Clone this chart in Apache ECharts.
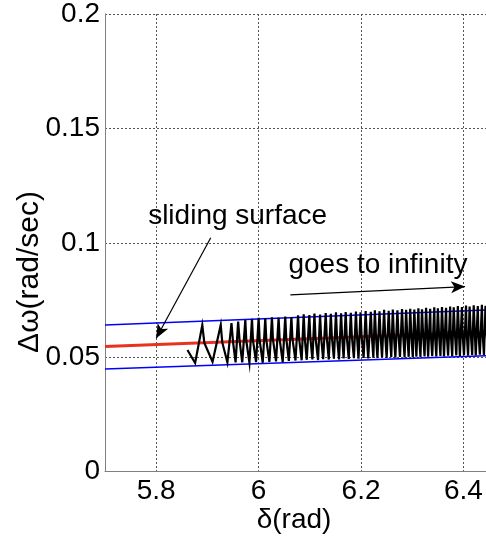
<!DOCTYPE html>
<html>
<head>
<meta charset="utf-8">
<script src="https://cdn.jsdelivr.net/npm/echarts@6/dist/echarts.min.js"></script>
<style>
  html, body { margin: 0; padding: 0; background: #fff; }
  #chart { width: 486px; height: 544px; }
</style>
</head>
<body>
<div id="chart"></div>
<script>
// Axis ticks
var xTicks = [5.8, 6, 6.2, 6.4];
var yTicks = [0, 0.05, 0.1, 0.15, 0.2];
var xRange = [5.7, 6.444];

// Sliding surface s = 0 (red) and its boundary layer (blue)
var surfaceDelta = [5.7, 6.5];
var surfaceOmega = [0.0547, 0.0615];
var upperDelta = [5.7, 6.5];
var upperOmega = [0.0641, 0.0712];
var lowerDelta = [5.7, 6.5];
var lowerOmega = [0.0449, 0.0511];

// State trajectory chattering across the boundary layer
var chatterDelta = [
  5.861, 5.876, 5.890, 5.894, 5.910, 5.926, 5.929, 5.939, 5.947, 5.950,
  5.955, 5.960, 5.963, 5.968, 5.974, 5.976, 5.982, 5.987, 5.989, 5.995,
  6.000, 6.002, 6.008, 6.013, 6.015, 6.021, 6.026, 6.028, 6.034, 6.039,
  6.041, 6.047, 6.052, 6.054, 6.059, 6.064, 6.066, 6.072, 6.077, 6.079,
  6.084, 6.088, 6.090, 6.094, 6.099, 6.101, 6.105, 6.109, 6.111, 6.116,
  6.120, 6.122, 6.126, 6.131, 6.133, 6.137, 6.141, 6.143, 6.147, 6.151,
  6.153, 6.157, 6.161, 6.163, 6.166, 6.170, 6.172, 6.176, 6.180, 6.182,
  6.186, 6.190, 6.192, 6.195, 6.199, 6.201, 6.205, 6.209, 6.211, 6.214,
  6.219, 6.221, 6.224, 6.227, 6.229, 6.232, 6.236, 6.238, 6.241, 6.245,
  6.247, 6.250, 6.254, 6.256, 6.259, 6.262, 6.264, 6.267, 6.271, 6.273,
  6.276, 6.280, 6.282, 6.285, 6.288, 6.290, 6.293, 6.296, 6.298, 6.301,
  6.304, 6.306, 6.308, 6.312, 6.313, 6.316, 6.319, 6.321, 6.324, 6.327,
  6.329, 6.331, 6.335, 6.336, 6.339, 6.343, 6.344, 6.347, 6.350, 6.352,
  6.355, 6.358, 6.360, 6.362, 6.366, 6.367, 6.370, 6.374, 6.375, 6.378,
  6.381, 6.383, 6.386, 6.389, 6.391, 6.393, 6.397, 6.398, 6.401, 6.405,
  6.406, 6.409, 6.412, 6.414, 6.417, 6.420, 6.422, 6.424, 6.428, 6.429,
  6.432, 6.436, 6.437, 6.440, 6.443, 6.445, 6.448, 6.451
];
var chatterOmega = [
  0.0532, 0.0475, 0.0641, 0.0563, 0.0481, 0.0641, 0.0565, 0.0478, 0.0649, 0.0567,
  0.0478, 0.0656, 0.0569, 0.0478, 0.0663, 0.0571, 0.0477, 0.0668, 0.0574, 0.0479,
  0.0672, 0.0575, 0.0476, 0.0670, 0.0576, 0.0480, 0.0675, 0.0578, 0.0482, 0.0673,
  0.0580, 0.0479, 0.0678, 0.0581, 0.0484, 0.0676, 0.0582, 0.0486, 0.0683, 0.0583,
  0.0487, 0.0688, 0.0585, 0.0489, 0.0685, 0.0586, 0.0491, 0.0691, 0.0587, 0.0488,
  0.0687, 0.0588, 0.0492, 0.0693, 0.0589, 0.0490, 0.0690, 0.0590, 0.0494, 0.0696,
  0.0591, 0.0491, 0.0692, 0.0592, 0.0495, 0.0698, 0.0593, 0.0493, 0.0694, 0.0594,
  0.0496, 0.0700, 0.0595, 0.0494, 0.0697, 0.0596, 0.0497, 0.0702, 0.0597, 0.0495,
  0.0699, 0.0598, 0.0498, 0.0705, 0.0599, 0.0496, 0.0701, 0.0600, 0.0499, 0.0707,
  0.0601, 0.0497, 0.0703, 0.0602, 0.0500, 0.0709, 0.0602, 0.0498, 0.0705, 0.0603,
  0.0501, 0.0711, 0.0604, 0.0499, 0.0707, 0.0605, 0.0502, 0.0712, 0.0606, 0.0500,
  0.0709, 0.0607, 0.0503, 0.0714, 0.0607, 0.0501, 0.0710, 0.0608, 0.0504, 0.0716,
  0.0609, 0.0502, 0.0712, 0.0610, 0.0505, 0.0718, 0.0611, 0.0503, 0.0714, 0.0611,
  0.0506, 0.0720, 0.0612, 0.0504, 0.0716, 0.0613, 0.0507, 0.0722, 0.0614, 0.0505,
  0.0718, 0.0614, 0.0508, 0.0724, 0.0615, 0.0506, 0.0720, 0.0616, 0.0509, 0.0726,
  0.0617, 0.0507, 0.0722, 0.0617, 0.0510, 0.0727, 0.0618, 0.0508, 0.0724, 0.0619,
  0.0511, 0.0729, 0.0620, 0.0509, 0.0725, 0.0620, 0.0512, 0.0730
];

// Annotation arrows (tail, head) in data coordinates
var surfaceArrow = [[5.9065, 0.1022], [5.800, 0.0583]];
var infinityArrow = [[6.062, 0.0773], [6.403, 0.0809]];
var surfaceLabelAt = [5.959, 0.1117];
var infinityLabelAt = [6.233, 0.0904];

function pairs(xs, ys) {
  return xs.map(function (x, i) { return [x, ys[i]]; });
}

var FONT = 'Liberation Sans, Arial, sans-serif';
var gridLine = { show: true, lineStyle: { color: '#555', width: 1, type: [2, 2] } };

var chart = echarts.init(document.getElementById('chart'), null, { renderer: 'canvas' });

chart.setOption({
  animation: false,
  backgroundColor: '#fff',
  grid: { left: 105, top: 14, right: 0, height: 457.7 },
  xAxis: {
    type: 'value', min: xRange[0], max: xRange[1],
    axisLine: { show: true, lineStyle: { color: '#808080', width: 1 } },
    axisTick: { show: false, customValues: xTicks },
    axisLabel: {
      customValues: xTicks, color: '#000', fontFamily: FONT, fontSize: 28, margin: 6,
      formatter: function (v) { return String(+v.toFixed(2)); }
    },
    splitLine: gridLine
  },
  yAxis: {
    type: 'value', min: 0, max: 0.2, interval: 0.05,
    axisLine: { show: true, lineStyle: { color: '#808080', width: 1 } },
    axisTick: { show: false },
    axisLabel: {
      color: '#000', fontFamily: FONT, fontSize: 28, margin: 5,
      formatter: function (v) { return String(+v.toFixed(2)); }
    },
    splitLine: gridLine
  },
  series: [
    {
      type: 'line', data: pairs(upperDelta, upperOmega), symbol: 'none',
      lineStyle: { color: '#0000ff', width: 1.5 }, z: 2
    },
    {
      type: 'line', data: pairs(lowerDelta, lowerOmega), symbol: 'none',
      lineStyle: { color: '#0000ff', width: 1.5 }, z: 2
    },
    {
      type: 'line', data: pairs(surfaceDelta, surfaceOmega), symbol: 'none',
      lineStyle: { color: '#e8321e', width: 3 }, z: 3
    },
    {
      type: 'line', data: pairs(chatterDelta, chatterOmega), symbol: 'none',
      lineStyle: { color: '#000', width: 2.2, join: 'miter' }, z: 4,
      markLine: {
        silent: true, symbol: ['none', 'arrow'], symbolSize: [9, 14],
        label: { show: false },
        lineStyle: { color: '#000', width: 1.2, type: 'solid' },
        data: [
          [{ coord: surfaceArrow[0] }, { coord: surfaceArrow[1] }],
          [{ coord: infinityArrow[0] }, { coord: infinityArrow[1] }]
        ]
      }
    }
  ]
});

// Labels placed through the axes' own scales
var pS = chart.convertToPixel({ gridIndex: 0 }, surfaceLabelAt);
var pI = chart.convertToPixel({ gridIndex: 0 }, infinityLabelAt);
function textStyle(size) {
  return { fill: '#000', font: size + 'px ' + FONT, textAlign: 'center', textVerticalAlign: 'middle' };
}
chart.setOption({
  graphic: [
    { type: 'text', x: pS[0], y: pS[1], style: Object.assign({ text: 'sliding surface' }, textStyle(28)), z: 10 },
    { type: 'text', x: pI[0], y: pI[1], style: Object.assign({ text: 'goes to infinity' }, textStyle(28)), z: 10 },
    { type: 'text', x: 294, y: 520, style: Object.assign({ text: 'δ(rad)' }, textStyle(28)), z: 10 },
    { type: 'text', x: 30, y: 272, rotation: Math.PI / 2, style: Object.assign({ text: 'Δω(rad/sec)' }, textStyle(30)), z: 10 }
  ]
});
</script>
</body>
</html>
